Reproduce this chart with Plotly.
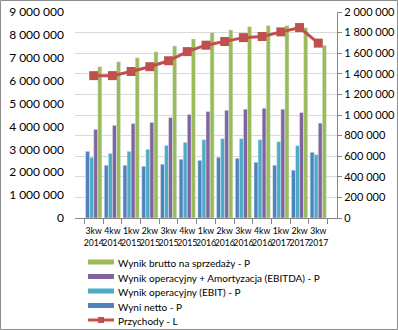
import plotly.graph_objects as go

categories = ["3kw<br>2014", "4kw<br>2014", "1kw<br>2015", "2kw<br>2015", "3kw<br>2015", "4kw<br>2015",
              "1kw<br>2016", "2kw<br>2016", "3kw<br>2016", "4kw<br>2016", "1kw<br>2017", "2kw<br>2017", "3kw<br>2017"]

wynik_netto = [647000, 512000, 512000, 502000, 522000, 570000, 560000, 589000, 580000, 541000, 512000, 464000, 638000]
ebit = [589000, 628000, 647000, 667000, 705000, 734000, 760000, 770000, 770000, 760000, 741000, 702000, 615000]
ebitda = [860000, 899000, 918000, 928000, 976000, 1005000, 1034000, 1046000, 1056000, 1066000, 1056000, 1024000, 921000]
brutto = [1469000, 1517000, 1556000, 1614000, 1671000, 1739000, 1800000, 1826000, 1858000, 1868000, 1868000, 1848000, 1678000]
przychody = [6220000, 6220000, 6400000, 6610000, 6870000, 7270000, 7550000, 7710000, 7880000, 7930000, 8130000, 8320000, 7640000]

name_netto = "Wyni netto - P"
name_ebit = "Wynik operacyjny (EBIT) - P"
name_ebitda = "Wynik operacyjny + Amortyzacja (EBITDA) - P"
name_brutto = "Wynik brutto na sprzedaży - P"
name_przych = "Przychody - L"

C_NETTO, C_EBIT, C_EBITDA, C_BRUTTO, C_LINE = "#4F81BD", "#4BACC6", "#8064A2", "#9BBB59", "#C0504D"

FONT = "Lato"
W, H = 398, 330
ML, MR, MT, MB = 75, 61, 12, 112
PW, PH = W - ML - MR, H - MT - MB

fig = go.Figure()
fig.add_trace(go.Bar(x=categories, y=wynik_netto, name=name_netto, marker_color=C_NETTO, yaxis="y"))
fig.add_trace(go.Bar(x=categories, y=ebit, name=name_ebit, marker_color=C_EBIT, yaxis="y"))
fig.add_trace(go.Bar(x=categories, y=ebitda, name=name_ebitda, marker_color=C_EBITDA, yaxis="y"))
fig.add_trace(go.Bar(x=categories, y=brutto, name=name_brutto, marker_color=C_BRUTTO, yaxis="y"))
fig.add_trace(go.Scatter(x=categories, y=przychody, name=name_przych, mode="lines+markers",
                         line=dict(color=C_LINE, width=3),
                         marker=dict(symbol="square", size=9, color=C_LINE), yaxis="y2"))

fig.update_layout(
    width=W, height=H,
    margin=dict(l=ML, r=MR, t=MT, b=MB, autoexpand=False),
    paper_bgcolor="white", plot_bgcolor="white",
    separators=", ",
    font=dict(family=FONT, size=11, color="#000000"),
    barmode="group", bargap=0.13, bargroupgap=0,
    showlegend=False,
    xaxis=dict(type="category", showline=True, linecolor="#868686", linewidth=1,
               ticks="outside", tickson="boundaries", ticklen=5, tickcolor="#868686",
               ticklabelstandoff=5,
               tickangle=0, tickfont=dict(family=FONT, size=8.7), showgrid=False),
    yaxis=dict(side="right", range=[0, 2000000], dtick=200000, tickformat=",.0f",
               showgrid=True, gridcolor="#D9D9D9", gridwidth=1,
               showline=True, linecolor="#868686", ticks="outside", ticklen=4, tickcolor="#868686",
               tickfont=dict(family=FONT, size=11), zeroline=False),
    yaxis2=dict(side="left", overlaying="y", range=[0, 9000000], dtick=1000000, tickformat=",.0f",
                showgrid=False, showline=False, zeroline=False, ticks="",
                ticklabelstandoff=10, tickfont=dict(family=FONT, size=12)),
)

# manual legend (Excel-style compact spacing)
def px_x(p):
    return (p - ML) / PW

def px_y(p):
    return (H - MB - p) / PH

legend_rows = [(name_brutto, C_BRUTTO, "bar"), (name_ebitda, C_EBITDA, "bar"),
               (name_ebit, C_EBIT, "bar"), (name_netto, C_NETTO, "bar"), (name_przych, C_LINE, "line")]
row_y0, row_dy = 262, 14.5
for i, (nm, col, kind) in enumerate(legend_rows):
    yc = row_y0 + i * row_dy
    if kind == "bar":
        fig.add_shape(type="rect", xref="paper", yref="paper",
                      x0=px_x(88), x1=px_x(114), y0=px_y(yc + 2.5), y1=px_y(yc - 2.5),
                      line=dict(width=0), fillcolor=col)
    else:
        fig.add_shape(type="line", xref="paper", yref="paper",
                      x0=px_x(88), x1=px_x(114), y0=px_y(yc), y1=px_y(yc),
                      line=dict(color=col, width=3))
        fig.add_shape(type="rect", xref="paper", yref="paper",
                      x0=px_x(98), x1=px_x(104), y0=px_y(yc + 3), y1=px_y(yc - 3),
                      line=dict(width=0), fillcolor=col)
    fig.add_annotation(text=nm, xref="paper", yref="paper", x=px_x(116), y=px_y(yc + 1),
                       xanchor="left", yanchor="middle", showarrow=False,
                       font=dict(family=FONT, size=10, color="#000000"))

fig.add_shape(type="rect", xref="paper", yref="paper",
              x0=(-ML + 0.5) / PW, x1=1 + (MR - 0.5) / PW,
              y0=(-MB + 0.5) / PH, y1=1 + (MT - 0.5) / PH,
              line=dict(color="#8C8C8C", width=1), fillcolor="rgba(0,0,0,0)", layer="above")

fig.write_html("out.html")
